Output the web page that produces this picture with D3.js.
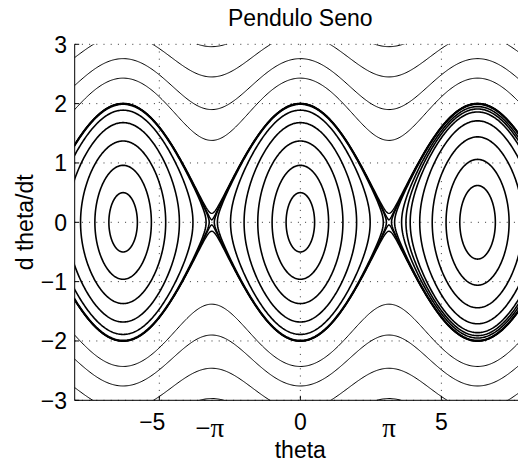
<!DOCTYPE html>
<html>
<head>
<meta charset="utf-8">
<script src="https://cdn.jsdelivr.net/npm/d3@7"></script>
<style>
  html, body { margin: 0; padding: 0; background: #fff; }
  svg { display: block; }
  text { font-family: "Liberation Sans", Arial, Helvetica, sans-serif; fill: #000; }
</style>
</head>
<body>
<svg id="chart" width="518" height="464"></svg>
<script>
// Phase portrait of the simple pendulum: theta'' = -sin(theta).
// Axis extents and ticks
const xDomain = [-8, 8];
const yDomain = [-3, 3];
const xTicks = [-5, 0, 5];
const yTicks = [-3, -2, -1, 0, 1, 2, 3];
const piTicks = [-Math.PI, Math.PI];
const piLabels = ["\u2212\u03c0", "\u03c0"];

// Oscillating orbits: peak angular velocity (at the bottom of the swing)
// for the wells centred at -2pi and 0, and for the well at +2pi.
const wellCentres = [-2 * Math.PI, 0];
const wellPeaks = [0.50, 0.96, 1.37, 1.68, 1.89, 1.99, 1.998];
const rightWellCentre = 2 * Math.PI;
const rightWellPeaks = [0.62, 1.06, 1.44, 1.71, 1.86, 1.91, 1.95, 1.99, 1.998];

// Rotating orbits: angular velocity when passing the upright position (theta = pi)
const rotationUpper = [0.04, 0.15, 1.38, 1.90, 2.45, 2.96];
const rotationLower = [-0.04, -0.15, -1.38, -1.90, -2.46, -2.97];

const svg = d3.select("#chart");
const margin = { left: 74.7, top: 44.3 };
const plotW = 451.3, plotH = 356;

const x = d3.scaleLinear().domain(xDomain).range([margin.left, margin.left + plotW]);
const y = d3.scaleLinear().domain(yDomain).range([margin.top + plotH, margin.top]);

svg.append("defs").append("clipPath").attr("id", "plotClip")
  .append("rect")
  .attr("x", margin.left).attr("y", margin.top)
  .attr("width", plotW).attr("height", plotH);

// Dotted grid
const grid = svg.append("g").attr("stroke", "#333").attr("stroke-width", 1)
  .attr("stroke-dasharray", "1 6.2");
grid.selectAll("line.gx").data(xTicks).join("line")
  .attr("x1", d => x(d)).attr("x2", d => x(d))
  .attr("y1", margin.top).attr("y2", margin.top + plotH);
grid.selectAll("line.gy").data(yTicks).join("line")
  .attr("x1", margin.left).attr("x2", margin.left + plotW)
  .attr("y1", d => y(d)).attr("y2", d => y(d));

const line = d3.line().x(d => x(d[0])).y(d => y(d[1]));
const curves = svg.append("g").attr("clip-path", "url(#plotClip)")
  .attr("fill", "none").attr("stroke", "#000").attr("stroke-linejoin", "round");

// Closed orbit with peak velocity p: theta = c + 2 asin(k sin phi), v = 2k cos phi, k = p/2
function closedOrbit(c, p) {
  const k = p / 2, pts = [];
  for (let i = 0; i <= 360; i++) {
    const phi = (i / 360) * 2 * Math.PI;
    pts.push([c + 2 * Math.asin(k * Math.sin(phi)), 2 * k * Math.cos(phi)]);
  }
  return pts;
}
// Rotating orbit with velocity m at theta = pi: v^2 = m^2 + 4 cos^2(theta/2)
function rotatingOrbit(m) {
  const s = Math.sign(m), pts = [];
  for (let t = xDomain[0] - 0.5; t <= xDomain[1] + 0.5; t += 0.04) {
    const c = Math.cos(t / 2);
    pts.push([t, s * Math.sqrt(m * m + 4 * c * c)]);
  }
  return pts;
}

const closedSets = [];
wellCentres.forEach(c => wellPeaks.forEach(p => closedSets.push(closedOrbit(c, p))));
rightWellPeaks.forEach(p => closedSets.push(closedOrbit(rightWellCentre, p)));
curves.selectAll("path.closed").data(closedSets).join("path")
  .attr("class", "closed").attr("stroke-width", 1.6).attr("d", line);

const rotAll = rotationUpper.concat(rotationLower);
curves.selectAll("path.rot").data(rotAll).join("path")
  .attr("class", "rot")
  .attr("stroke-width", d => Math.abs(d) < 0.5 ? 1.4 : 1.0)
  .attr("d", d => line(rotatingOrbit(d)));

// Axes (left and bottom only)
const axisG = svg.append("g").attr("stroke", "#000").attr("stroke-width", 1);
axisG.append("line").attr("x1", margin.left).attr("x2", margin.left)
  .attr("y1", margin.top).attr("y2", margin.top + plotH);
axisG.append("line").attr("x1", margin.left).attr("x2", margin.left + plotW)
  .attr("y1", margin.top + plotH).attr("y2", margin.top + plotH);
axisG.selectAll("line.ty").data(yTicks).join("line")
  .attr("x1", margin.left).attr("x2", margin.left + 4.5)
  .attr("y1", d => y(d)).attr("y2", d => y(d));
axisG.selectAll("line.tx").data(xTicks).join("line")
  .attr("x1", d => x(d)).attr("x2", d => x(d))
  .attr("y1", margin.top + plotH).attr("y2", margin.top + plotH - 4.5);

const fmt = d => (d < 0 ? "\u2212" : "") + Math.abs(d);
const fs = 23;

svg.append("g").selectAll("text").data(yTicks).join("text")
  .attr("x", 67).attr("y", d => y(d) + 8.5)
  .attr("text-anchor", "end").attr("font-size", fs).text(fmt);

svg.append("g").selectAll("text").data(xTicks).join("text")
  .attr("x", d => x(d) - (d < 0 ? 7 : 0)).attr("y", 430)
  .attr("text-anchor", "middle").attr("font-size", fs).text(fmt);

svg.append("g").selectAll("text").data(piTicks).join("text")
  .attr("x", d => x(d) - (d < 0 ? 2 : 0)).attr("y", 437)
  .attr("text-anchor", "middle").attr("font-size", 27)
  .style("font-family", "'Liberation Serif', 'Times New Roman', serif")
  .text((d, i) => piLabels[i]);

svg.append("text").attr("x", 300.3).attr("y", 458)
  .attr("text-anchor", "middle").attr("font-size", fs).text("theta");

svg.append("text").attr("transform", "translate(33,222.3) rotate(-90)")
  .attr("text-anchor", "middle").attr("font-size", fs).text("d theta/dt");

svg.append("text").attr("x", 300.3).attr("y", 26)
  .attr("text-anchor", "middle").attr("font-size", fs).text("Pendulo Seno");
</script>
</body>
</html>
